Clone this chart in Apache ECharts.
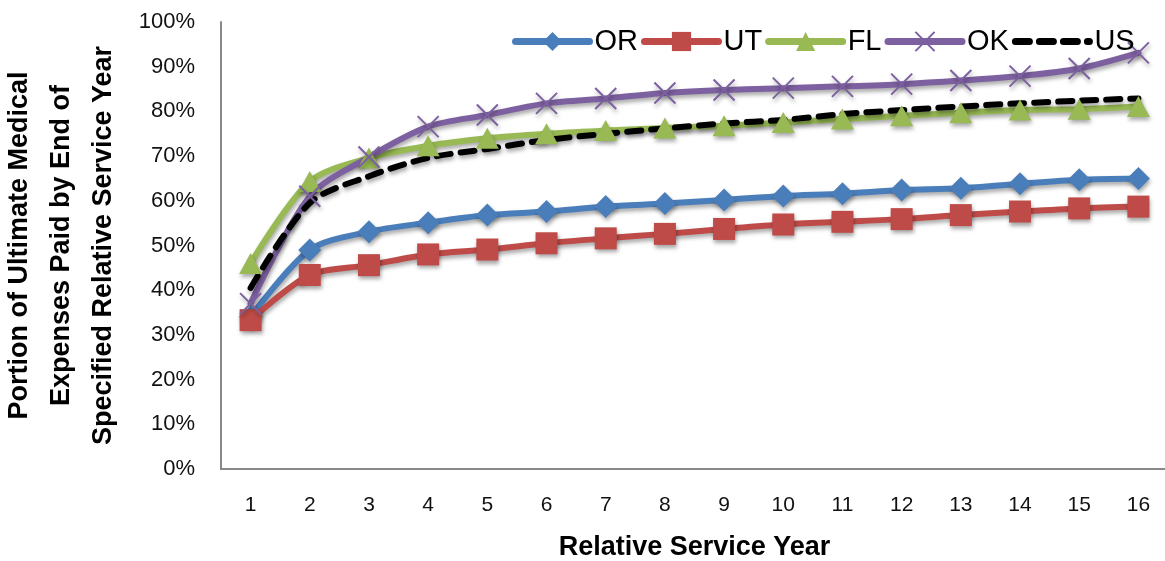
<!DOCTYPE html>
<html>
<head>
<meta charset="utf-8">
<script src="https://cdn.jsdelivr.net/npm/echarts@6/dist/echarts.min.js"></script>
<style>
  html, body { margin: 0; padding: 0; background: #fff; }
  #chart { width: 1165px; height: 561px; }
</style>
</head>
<body>
<div id="chart"></div>
<script>
// Relative service years on the category axis
const years = ['1','2','3','4','5','6','7','8','9','10','11','12','13','14','15','16'];

// Cumulative share of ultimate medical expenses paid (%)
const OR = [34.0, 49.0, 53.1, 55.1, 56.8, 57.6, 58.7, 59.4, 60.2, 61.1, 61.6, 62.4, 62.8, 63.8, 64.7, 65.0];
const UT = [33.3, 43.4, 45.6, 48.0, 49.1, 50.5, 51.6, 52.6, 53.7, 54.7, 55.3, 55.9, 56.8, 57.6, 58.3, 58.7];
const FL = [46.0, 64.3, 69.6, 72.3, 74.0, 75.0, 75.7, 76.3, 76.8, 77.5, 78.3, 79.0, 79.7, 80.3, 80.5, 81.1];
const OK = [37.0, 61.0, 69.8, 76.6, 79.2, 81.8, 82.9, 84.1, 84.8, 85.2, 85.6, 86.1, 86.9, 87.9, 89.6, 93.1];
const US = [40.5, 59.5, 65.5, 69.6, 71.6, 73.6, 75.0, 76.2, 77.3, 78.1, 79.4, 80.3, 81.1, 81.8, 82.4, 82.9];

// Y axis ticks (%)
const yTicks = [0, 10, 20, 30, 40, 50, 60, 70, 80, 90, 100];

const FONT = '"Liberation Sans", Arial, sans-serif';
const shadow = { shadowColor: 'rgba(0,0,0,0.35)', shadowBlur: 4, shadowOffsetX: 1, shadowOffsetY: 3 };

function lineSeries(name, data, color, symbol, size, extra) {
  return Object.assign({
    name: name,
    type: 'line',
    data: data,
    smooth: 0.3,
    symbol: symbol,
    symbolSize: size,
    lineStyle: Object.assign({ color: color, width: 6, cap: 'round' }, shadow),
    itemStyle: Object.assign({ color: color, borderColor: color, borderWidth: 0 }, shadow),
    emphasis: { disabled: true }
  }, extra || {});
}

const chart = echarts.init(document.getElementById('chart'));
chart.setOption({
  animation: false,
  backgroundColor: '#ffffff',
  grid: { left: 221, top: 22, width: 947, height: 447, containLabel: false, outerBoundsMode: 'none' },
  legend: {
    left: 507, top: 22,
    itemWidth: 74, itemHeight: 24, itemGap: 3,
    lineStyle: { width: 7 },
    textStyle: { fontFamily: FONT, fontSize: 29, color: '#000' },
    data: ['OR', 'UT', 'FL', 'OK', { name: 'US', itemStyle: { opacity: 0 } }]
  },
  xAxis: {
    type: 'category',
    data: years,
    boundaryGap: true,
    axisLine: { lineStyle: { color: '#888', width: 2 } },
    axisTick: { show: false },
    axisLabel: { fontFamily: FONT, fontSize: 21, color: '#111', margin: 26 },
    name: 'Relative Service Year',
    nameLocation: 'middle',
    nameGap: 79,
    nameMoveOverlap: false,
    nameTextStyle: { fontFamily: FONT, fontSize: 27, fontWeight: 'bold', color: '#000', verticalAlign: 'middle' }
  },
  yAxis: {
    type: 'value',
    min: yTicks[0], max: yTicks[yTicks.length - 1], interval: 10,
    axisLine: { show: true, lineStyle: { color: '#888', width: 2 } },
    axisTick: { show: false },
    splitLine: { show: false },
    axisLabel: { fontFamily: FONT, fontSize: 22, color: '#111', margin: 26, formatter: '{value}%' },
    name: 'Portion of Ultimate Medical\nExpenses Paid by End of\nSpecified Relative Service Year',
    nameLocation: 'middle',
    nameRotate: 90,
    nameGap: 159,
    nameMoveOverlap: false,
    nameTextStyle: { fontFamily: FONT, fontSize: 27, fontWeight: 'bold', color: '#000', lineHeight: 42, align: 'center', verticalAlign: 'middle' }
  },
  series: [
    lineSeries('OR', OR, '#4A7EBB', 'diamond', [23, 23]),
    lineSeries('UT', UT, '#BE4B48', 'rect', [22, 22]),
    lineSeries('FL', FL, '#98B954', 'triangle', [23, 21]),
    lineSeries('OK', OK, '#7D60A0', 'path://M0,0L10,10M10,0L0,10', [21, 21], {
      itemStyle: Object.assign({ color: 'none', borderColor: '#7D60A0', borderWidth: 2 }, shadow)
    }),
    lineSeries('US', US, '#000000', 'none', 0, {
      lineStyle: Object.assign({ color: '#000', width: 6, type: [14, 10], cap: 'round' }, shadow),
      itemStyle: { color: '#000' }
    })
  ]
});
</script>
</body>
</html>
